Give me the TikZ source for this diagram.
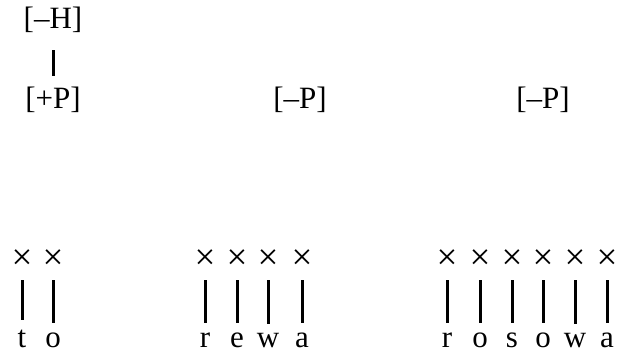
\documentclass[tikz,border=0pt]{standalone}
\usepackage{fontspec}
\setmainfont{Liberation Serif}
\begin{document}
\begin{tikzpicture}[x=1pt, y=-1pt,
  feat/.style={inner sep=0pt, font=\fontsize{31}{36}\selectfont},
  slot/.style={inner sep=0pt, font=\fontsize{37}{40}\selectfont},
  seg/.style={inner sep=0pt, anchor=base, font=\fontsize{31}{36}\selectfont},
  assoc/.style={line width=3pt, shorten <=10pt, shorten >=10pt}]
\useasboundingbox (0,0) rectangle (618,352);
% tiers
\node[feat] (H) at (53,20) {[–H]};
\node[feat] (P1) at (53,99.5) {[+P]};
\node[feat] (P2) at (300,99.5) {[–P]};
\node[feat] (P3) at (543,99.5) {[–P]};
\draw[line width=3pt, shorten <=17pt, shorten >=10pt] (H) -- (P1);
% skeleton slots
\node[slot] (x1) at (22,260) {×};
\node[slot] (x2) at (53,260) {×};
\node[slot] (x3) at (205,260) {×};
\node[slot] (x4) at (237,260) {×};
\node[slot] (x5) at (268,260) {×};
\node[slot] (x6) at (302,260) {×};
\node[slot] (x7) at (447,260) {×};
\node[slot] (x8) at (480,260) {×};
\node[slot] (x9) at (512,260) {×};
\node[slot] (x10) at (543,260) {×};
\node[slot] (x11) at (575,260) {×};
\node[slot] (x12) at (607,260) {×};
% segments
\node[seg] (s1) at (22,348) {t};
\node[seg] (s2) at (53,348) {o};
\node[seg] (s3) at (205,348) {r};
\node[seg] (s4) at (237,348) {e};
\node[seg] (s5) at (268,348) {w};
\node[seg] (s6) at (302,348) {a};
\node[seg] (s7) at (447,348) {r};
\node[seg] (s8) at (480,348) {o};
\node[seg] (s9) at (512,348) {s};
\node[seg] (s10) at (543,348) {o};
\node[seg] (s11) at (575,348) {w};
\node[seg] (s12) at (607,348) {a};
% association lines
\draw[assoc] (x1) -- (s1);
\draw[assoc] (x2) -- (s2);
\draw[assoc] (x3) -- (s3);
\draw[assoc] (x4) -- (s4);
\draw[assoc] (x5) -- (s5);
\draw[assoc] (x6) -- (s6);
\draw[assoc] (x7) -- (s7);
\draw[assoc] (x8) -- (s8);
\draw[assoc] (x9) -- (s9);
\draw[assoc] (x10) -- (s10);
\draw[assoc] (x11) -- (s11);
\draw[assoc] (x12) -- (s12);
\end{tikzpicture}
\end{document}
